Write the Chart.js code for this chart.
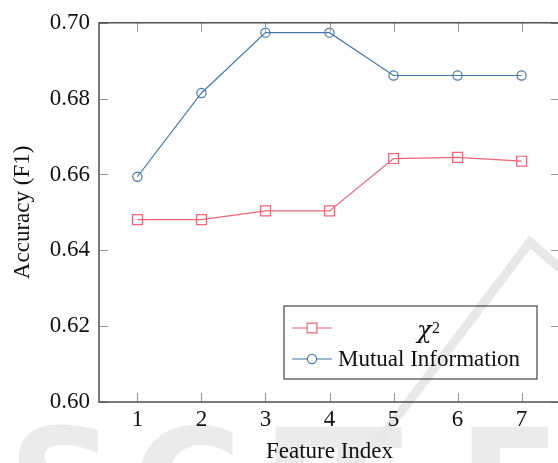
<!DOCTYPE html>
<html>
<head>
<meta charset="utf-8">
<script src="https://cdn.jsdelivr.net/npm/chart.js@4.4.0/dist/chart.umd.min.js"></script>
<style>
  html, body { margin: 0; padding: 0; background: #fff; overflow: hidden; }
  #wrap { width: 562px; height: 463px; }
</style>
</head>
<body>
<div id="wrap"><canvas id="chart" width="562" height="463"></canvas></div>
<script>
// data
const featureIndex = [1, 2, 3, 4, 5, 6, 7];
const chi2 = [0.6481, 0.6481, 0.6504, 0.6504, 0.6642, 0.6645, 0.6635];
const mutualInfo = [0.6594, 0.6815, 0.6974, 0.6974, 0.6861, 0.6861, 0.6861];
const yTicks = [0.60, 0.62, 0.64, 0.66, 0.68, 0.70];

const RED = '#EE6677';
const BLUE = '#4477AA';
const FONT = 'Liberation Serif, Times New Roman, serif';

const toPoints = ys => featureIndex.map((x, i) => ({ x, y: ys[i] }));

// faint publisher watermark behind the plot
const watermark = {
  id: 'watermark',
  beforeDraw(chart) {
    const { ctx } = chart;
    ctx.save();
    ctx.fillStyle = '#ebebeb';
    ctx.font = 'bold 150px DejaVu Sans, sans-serif';
    ctx.textBaseline = 'alphabetic';
    [['S', 8], ['C', 132], ['I', 262], ['T', 300], ['E', 458]].forEach(([ch, x]) => ctx.fillText(ch, x, 536));
    ctx.strokeStyle = '#e8e8e8';
    ctx.lineWidth = 9;
    ctx.beginPath();
    ctx.moveTo(372, 450);
    ctx.lineTo(530, 242);
    ctx.lineTo(562, 270);
    ctx.stroke();
    ctx.restore();
  }
};

// pgfplots-style box with inward ticks
const frame = {
  id: 'frame',
  afterDatasetsDraw(chart) {
    const { ctx, chartArea: a, scales: { x, y } } = chart;
    ctx.save();
    ctx.strokeStyle = '#999';
    ctx.lineWidth = 1;
    ctx.beginPath();
    featureIndex.forEach(v => {
      const px = Math.round(x.getPixelForValue(v)) + 0.5;
      ctx.moveTo(px, a.bottom); ctx.lineTo(px, a.bottom - 9);
      ctx.moveTo(px, a.top); ctx.lineTo(px, a.top + 9);
    });
    yTicks.forEach(v => {
      const py = Math.round(y.getPixelForValue(v)) + 0.5;
      ctx.moveTo(a.left, py); ctx.lineTo(a.left + 9, py);
      ctx.moveTo(a.right, py); ctx.lineTo(a.right - 9, py);
    });
    ctx.stroke();
    ctx.strokeStyle = '#444';
    ctx.lineWidth = 1.4;
    ctx.strokeRect(a.left, a.top, a.right - a.left, a.bottom - a.top);
    ctx.restore();
  }
};

// legend drawn inside the plot, lower right
const boxLegend = {
  id: 'boxLegend',
  afterDraw(chart) {
    const { ctx } = chart;
    const bx = 284, by = 306, bw = 253, bh = 73;
    ctx.save();
    ctx.strokeStyle = '#444';
    ctx.lineWidth = 1.2;
    ctx.strokeRect(bx, by, bw, bh);
    const rows = [328, 359];
    chart.data.datasets.forEach((ds, i) => {
      const yy = rows[i];
      ctx.strokeStyle = ds.borderColor;
      ctx.lineWidth = 1.2;
      ctx.beginPath();
      ctx.moveTo(292, yy); ctx.lineTo(332, yy);
      ctx.stroke();
      ctx.fillStyle = '#fff';
      Chart.helpers.drawPoint(ctx, {
        pointStyle: ds.pointStyle, radius: ds.pointRadius, borderWidth: 1.2
      }, 312, yy);
    });
    ctx.fillStyle = '#111';
    ctx.textBaseline = 'alphabetic';
    ctx.font = 'italic 24px DejaVu Serif, serif';
    ctx.fillText('χ', 417, 338);
    ctx.font = '16px ' + FONT;
    ctx.fillText('2', 432, 333);
    ctx.font = '23px ' + FONT;
    ctx.textBaseline = 'middle';
    ctx.fillText('Mutual Information', 338, 360);
    ctx.restore();
  }
};

const data = {
  datasets: [
    {
      label: 'χ²',
      data: toPoints(chi2),
      borderColor: RED,
      backgroundColor: 'rgba(0,0,0,0)',
      pointStyle: 'rect',
      pointRadius: 7,
      pointBorderWidth: 1.2,
      borderWidth: 1.2,
      tension: 0,
    },
    {
      label: 'Mutual Information',
      data: toPoints(mutualInfo),
      borderColor: BLUE,
      backgroundColor: 'rgba(0,0,0,0)',
      pointStyle: 'circle',
      pointRadius: 4.6,
      pointBorderWidth: 1.2,
      borderWidth: 1.2,
      tension: 0,
    },
  ],
};

const config = {
  type: 'line',
  data,
  options: {
    responsive: false,
    animation: false,
    devicePixelRatio: 1,
    layout: { autoPadding: false, padding: { top: 19, left: 0, right: 2, bottom: 0 } },
    plugins: { legend: { display: false }, tooltip: { enabled: false } },
    scales: {
      x: {
        type: 'linear',
        min: 0.4,
        max: 7.6,
        afterBuildTicks: s => { s.ticks = featureIndex.map(v => ({ value: v })); },
        afterFit: s => { s.height = 61; },
        grid: { display: false, drawTicks: false },
        border: { display: false },
        ticks: { color: '#111', padding: 4, font: { family: FONT, size: 23 }, maxRotation: 0 },
        title: {
          display: true, text: 'Feature Index', color: '#111',
          font: { family: FONT, size: 23, lineHeight: 1 }, padding: { top: 0, bottom: 0 }
        },
      },
      y: {
        min: 0.6,
        max: 0.7,
        afterBuildTicks: s => { s.ticks = yTicks.map(v => ({ value: v })); },
        afterFit: s => { s.width = 99; },
        grid: { display: false, drawTicks: false },
        border: { display: false },
        ticks: { color: '#111', padding: 9, font: { family: FONT, size: 23 }, callback: v => v.toFixed(2) },
        title: {
          display: true, text: 'Accuracy (F1)', color: '#111',
          font: { family: FONT, size: 23, lineHeight: 1 }, padding: { top: 11, bottom: 0 }
        },
      },
    },
  },
  plugins: [watermark, frame, boxLegend],
};

new Chart(document.getElementById('chart'), config);
</script>
</body>
</html>
